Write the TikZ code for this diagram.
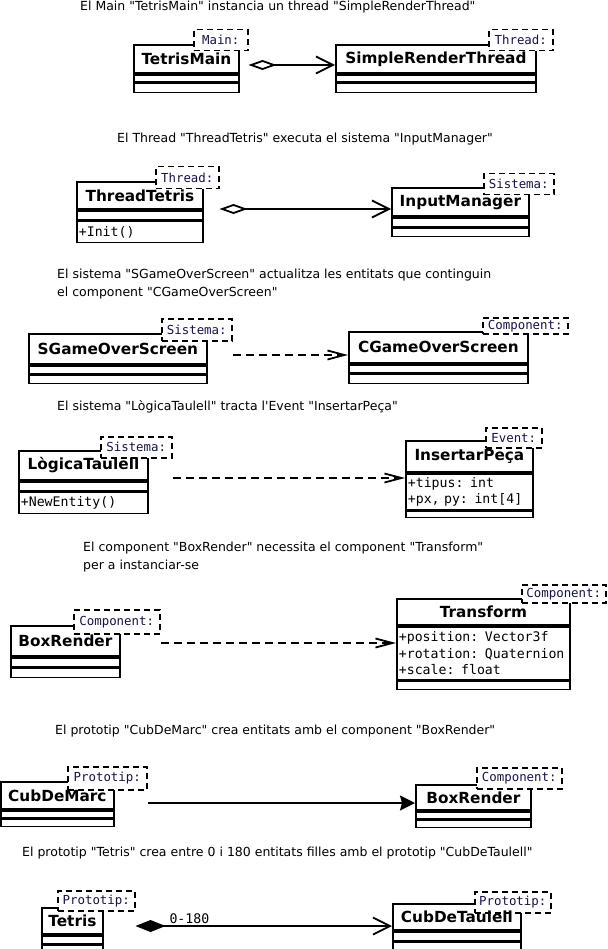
\documentclass[tikz,border=0pt]{standalone}
\usepackage{fontspec}
\setmainfont{DejaVu Sans}[Ligatures=TeXOff]
\setmonofont{DejaVu Sans Mono}
\usetikzlibrary{arrows.meta}
\usetikzlibrary{positioning}

\definecolor{stereotxt}{RGB}{20,20,70}

\tikzset{
  caption/.style={anchor=west, align=left, inner sep=0pt, font=\fontsize{12.5}{18}\selectfont},
  clsbox/.style={draw, line width=1.8pt, fill=white, anchor=north west, inner sep=0pt},
  clsname/.style={inner sep=0pt, font=\bfseries\fontsize{15.3}{17}\selectfont},
  slot/.style={draw, line width=1.8pt, fill=white, anchor=north, inner sep=0pt},
  members/.style={slot, inner xsep=2pt, align=left, font=\ttfamily\fontsize{13.2}{16.5}\selectfont},
  stereo/.style={draw, line width=1.5pt, dash pattern=on 6pt off 4pt, fill=white, anchor=north west, inner sep=0pt, text=stereotxt, font=\ttfamily\fontsize{12.4}{13}\selectfont},
  aggr/.style={line width=1.8pt, {Diamond[open, length=28pt, width=10pt]}-{Straight Barb[length=17pt, width=17pt]}},
  compo/.style={line width=1.8pt, {Diamond[length=30pt, width=12pt]}-{Straight Barb[length=17pt, width=17pt]}},
  depend/.style={line width=1.8pt, dash pattern=on 8pt off 5pt, -{Straight Barb[length=17pt, width=9pt]}},
  assoc/.style={line width=1.8pt, -{Stealth[length=15pt, width=15pt, inset=2pt]}},
}

\begin{document}
\begin{tikzpicture}[x=1pt, y=-1pt]
\useasboundingbox (0,0) rectangle (607,949);

% TetrisMain -> SimpleRenderThread
\node[caption] (cap1) at (80,7) {El Main "TetrisMain" instancia un thread "SimpleRenderThread"};
\node[clsbox, minimum width=105pt, minimum height=28pt] (tm) at (133,44) {};
\node[slot, minimum width=105pt, minimum height=7pt] (tm1) at (tm.south) {};
\node[slot, minimum width=105pt, minimum height=9pt] (tm2) at (tm1.south) {};
\node[stereo, minimum width=54pt, minimum height=21pt] (tmS) at (193,29) {Main:};
\node[clsname] (tmN) at (tm) {TetrisMain};
\node[clsbox, minimum width=200pt, minimum height=28pt] (srt) at (335,44) {};
\node[slot, minimum width=200pt, minimum height=7pt] (srt1) at (srt.south) {};
\node[slot, minimum width=200pt, minimum height=9pt] (srt2) at (srt1.south) {};
\node[stereo, minimum width=64pt, minimum height=21pt] (srtS) at (488,29) {Thread:};
\node[clsname] (srtN) at (srt) {SimpleRenderThread};
\draw[aggr] (tmS.east |- 0,65) -- (srt.west |- 0,65);

% ThreadTetris -> InputManager
\node[caption] (cap2) at (117,139) {El Thread "ThreadTetris" executa el sistema "InputManager"};
\node[clsbox, minimum width=126pt, minimum height=27pt] (tt) at (76,181) {};
\node[slot, minimum width=126pt, minimum height=9pt] (tt1) at (tt.south) {};
\node[members, text width=122pt, minimum height=21pt] (tt2) at (tt1.south) {+Init()};
\node[stereo, minimum width=63pt, minimum height=22pt] (ttS) at (155,166) {Thread:};
\node[clsname] (ttN) at (tt) {ThreadTetris};
\node[clsbox, minimum width=137pt, minimum height=28pt] (im) at (391,187) {};
\node[slot, minimum width=137pt, minimum height=9pt] (im1) at (im.south) {};
\node[slot, minimum width=137pt, minimum height=8pt] (im2) at (im1.south) {};
\node[stereo, minimum width=70pt, minimum height=21pt] (imS) at (483,173) {Sistema:};
\node[clsname] (imN) at ([yshift=-1pt]im.center) {InputManager};
\draw[aggr] (ttS.east |- 0,209) -- (im.west |- 0,209);

% SGameOverScreen -> CGameOverScreen
\node[caption] (cap3) at (57,284) {El sistema "SGameOverScreen" actualitza les entitats que continguin\\el component "CGameOverScreen"};
\node[clsbox, minimum width=178pt, minimum height=30pt] (sgo) at (28,333) {};
\node[slot, minimum width=178pt, minimum height=8pt] (sgo1) at (sgo.south) {};
\node[slot, minimum width=178pt, minimum height=8pt] (sgo2) at (sgo1.south) {};
\node[stereo, minimum width=70pt, minimum height=22pt] (sgoS) at (161,318) {Sistema:};
\node[clsname] (sgoN) at (sgo) {SGameOverScreen};
\node[clsbox, minimum width=179pt, minimum height=31pt] (cgo) at (348,331) {};
\node[slot, minimum width=179pt, minimum height=8pt] (cgo1) at (cgo.south) {};
\node[slot, minimum width=179pt, minimum height=9pt] (cgo2) at (cgo1.south) {};
\node[stereo, minimum width=85pt, minimum height=16pt] (cgoS) at (482,317) {Component:};
\node[clsname] (cgoN) at (cgo) {CGameOverScreen};
\draw[depend] (sgoS.east |- 0,355) -- (cgo.west |- 0,355);

% LogicaTaulell -> InsertarPeca
\node[caption] (cap4) at (57,407) {El sistema "LògicaTaulell" tracta l'Event "InsertarPeça"};
\node[clsbox, minimum width=129pt, minimum height=29pt] (lt) at (18,450) {};
\node[slot, minimum width=129pt, minimum height=9pt] (lt1) at (lt.south) {};
\node[members, text width=125pt, minimum height=21pt] (lt2) at (lt1.south) {+NewEntity()};
\node[stereo, minimum width=71pt, minimum height=21pt] (ltS) at (100,436) {Sistema:};
\node[clsname] (ltN) at (lt) {LògicaTaulell};
\node[clsbox, minimum width=127pt, minimum height=31pt] (ip) at (405,440) {};
\node[members, text width=123pt, minimum height=36pt] (ip1) at (ip.south) {+tipus: int\\+px, py: int[4]};
\node[slot, minimum width=127pt, minimum height=6pt] (ip2) at (ip1.south) {};
\node[stereo, minimum width=56pt, minimum height=20pt] (ipS) at (485,427) {Event:};
\node[clsname] (ipN) at (ip) {InsertarPeça};
\draw[depend] (ltS.east |- 0,478) -- (ip.west |- 0,478);

% BoxRender -> Transform
\node[caption] (cap5) at (83,557) {El component "BoxRender" necessita el component "Transform"\\per a instanciar-se};
\node[clsbox, minimum width=109pt, minimum height=30pt] (br) at (10,625) {};
\node[slot, minimum width=109pt, minimum height=9pt] (br1) at (br.south) {};
\node[slot, minimum width=109pt, minimum height=9pt] (br2) at (br1.south) {};
\node[stereo, minimum width=86pt, minimum height=24pt] (brS) at (73,609) {Component:};
\node[clsname] (brN) at (br) {BoxRender};
\node[clsbox, minimum width=173pt, minimum height=26pt] (tf) at (396,598) {};
\node[members, text width=169pt, minimum height=53pt] (tf1) at (tf.south) {+position: Vector3f\\+rotation: Quaternion\\+scale: float};
\node[slot, minimum width=173pt, minimum height=8pt] (tf2) at (tf1.south) {};
\node[stereo, minimum width=84pt, minimum height=18pt] (tfS) at (521,584) {Component:};
\node[clsname] (tfN) at (tf) {Transform};
\draw[depend] (brS.east |- 0,643) -- (tf.west |- 0,643);

% CubDeMarc -> BoxRender
\node[caption] (cap6) at (55,731) {El prototip "CubDeMarc" crea entitats amb el component "BoxRender"};
\node[clsbox, minimum width=113pt, minimum height=27pt] (cdm) at (0,781) {};
\node[slot, minimum width=113pt, minimum height=7pt] (cdm1) at (cdm.south) {};
\node[slot, minimum width=113pt, minimum height=7pt] (cdm2) at (cdm1.south) {};
\node[stereo, minimum width=79pt, minimum height=23pt] (cdmS) at (67,766) {Prototip:};
\node[clsname] (cdmN) at (cdm) {CubDeMarc};
\node[clsbox, minimum width=115pt, minimum height=25pt] (brx) at (415,784) {};
\node[slot, minimum width=115pt, minimum height=7pt] (brx1) at (brx.south) {};
\node[slot, minimum width=115pt, minimum height=7pt] (brx2) at (brx1.south) {};
\node[stereo, minimum width=85pt, minimum height=21pt] (brxS) at (476,767) {Component:};
\node[clsname] (brxN) at (brx) {BoxRender};
\draw[assoc] (cdmS.east |- 0,803) -- (brx.west |- 0,803);

% Tetris -> CubDeTaulell
\node[caption] (cap7) at (22,853) {El prototip "Tetris" crea entre 0 i 180 entitats filles amb el prototip "CubDeTaulell"};
\node[clsbox, minimum width=61pt, minimum height=26pt] (tet) at (41,907) {};
\node[slot, minimum width=61pt, minimum height=8pt] (tet1) at (tet.south) {};
\node[slot, minimum width=61pt, minimum height=8pt] (tet2) at (tet1.south) {};
\node[stereo, minimum width=77pt, minimum height=20pt] (tetS) at (57,890) {Prototip:};
\node[clsname] (tetN) at (tet) {Tetris};
\node[clsbox, minimum width=128pt, minimum height=26pt] (cdt) at (392,903) {};
\node[slot, minimum width=128pt, minimum height=9pt] (cdt1) at (cdt.south) {};
\node[slot, minimum width=128pt, minimum height=9pt] (cdt2) at (cdt1.south) {};
\node[stereo, minimum width=76pt, minimum height=21pt] (cdtS) at (474,891) {Prototip:};
\node[clsname] (cdtN) at (cdt) {CubDeTaulell};
\draw[compo] (tetS.east |- 0,926) -- node[pos=0.21, above, inner sep=1pt, font=\ttfamily\fontsize{13.2}{15}\selectfont] (mult) {0-180} (cdt.west |- 0,926);
\end{tikzpicture}
\end{document}
